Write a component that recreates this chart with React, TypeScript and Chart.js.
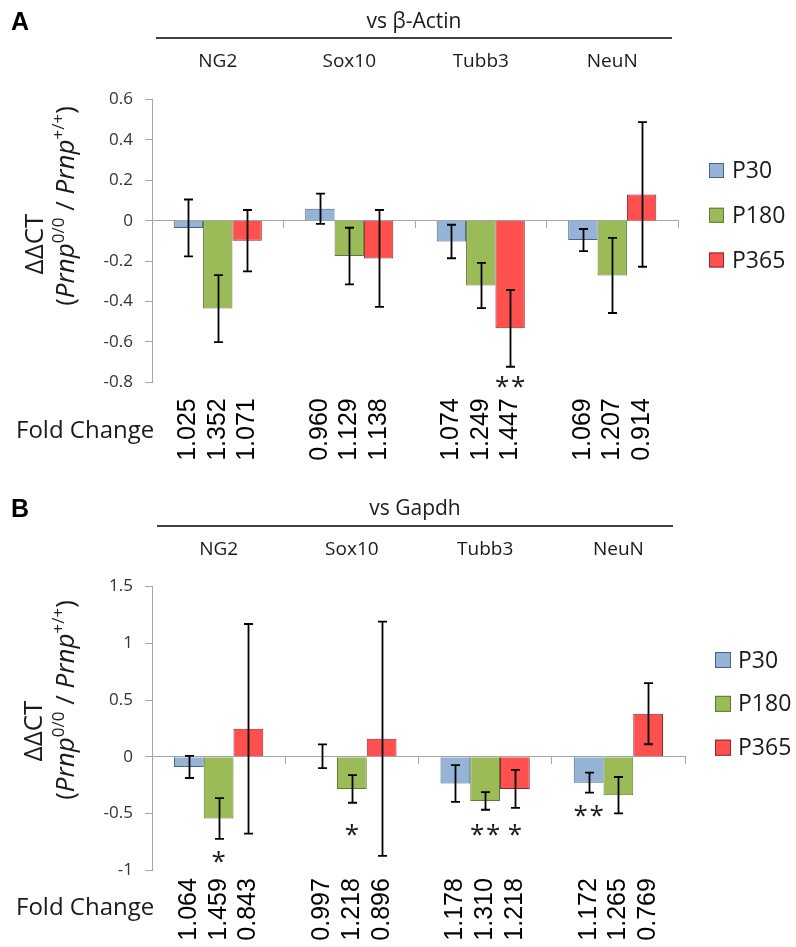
import React, { useEffect, useRef } from "react";
import { Chart, registerables } from "chart.js";

Chart.register(...registerables);

// ---------- shared ----------
const genes = ["NG2", "Sox10", "Tubb3", "NeuN"];
const seriesNames = ["P30", "P180", "P365"];
const seriesFill = ["#95B3D7", "#9BBB59", "#FF5050"];
const seriesEdge = ["#4A6284", "#5E7A2E", "#8C2A2A"];

// ---------- Panel A : vs β-Actin ----------
const aP30 = [-0.036, 0.059, -0.103, -0.096];
const aP180 = [-0.435, -0.175, -0.321, -0.271];
const aP365 = [-0.099, -0.187, -0.533, 0.13];
const aErrP30 = [0.141, 0.075, 0.083, 0.055];
const aErrP180 = [0.166, 0.14, 0.112, 0.186];
const aErrP365 = [0.152, 0.24, 0.19, 0.358];
const aFoldP30 = ["1.025", "0.960", "1.074", "1.069"];
const aFoldP180 = ["1.352", "1.129", "1.249", "1.207"];
const aFoldP365 = ["1.071", "1.138", "1.447", "0.914"];
const aStarSeries = [2];
const aStarGene = [2];
const aStarMark = ["**"];
const aStarY = [-0.797];

// ---------- Panel B : vs Gapdh ----------
const bP30 = [-0.09, 0.004, -0.236, -0.229];
const bP180 = [-0.545, -0.284, -0.39, -0.339];
const bP365 = [0.246, 0.158, -0.284, 0.379];
const bErrP30 = [0.098, 0.105, 0.162, 0.088];
const bErrP180 = [0.18, 0.122, 0.078, 0.16];
const bErrP365 = [0.924, 1.033, 0.167, 0.269];
const bFoldP30 = ["1.064", "0.997", "1.178", "1.172"];
const bFoldP180 = ["1.459", "1.218", "1.310", "1.265"];
const bFoldP365 = ["0.843", "0.896", "1.218", "0.769"];
const bStarSeries = [1, 1, 1, 2, 0];
const bStarGene = [0, 1, 2, 2, 3];
const bStarMark = ["*", "*", "**", "*", "**"];
const bStarY = [-0.883, -0.647, -0.647, -0.647, -0.478];

const SANS = '"Open Sans", "Noto Sans", "DejaVu Sans", sans-serif';
const ARIAL = '"Liberation Sans", Arial, sans-serif';

type PanelCfg = {
  letter: string;
  header: string;
  values: number[][];
  errors: number[][];
  folds: string[][];
  starSeries: number[];
  starGene: number[];
  starMark: string[];
  starY: number[];
  yMin: number;
  yMax: number;
  yStep: number;
  top: number;
  height: number;
  padTop: number;
  padBottom: number;
  padRight: number;
  letterBase: number;
  headerBase: number;
  lineY: number;
  lineX1: number;
  lineX2: number;
  geneBase: number;
  title1X: number;
  title1Y: number;
  title2X: number;
  title2Y: number;
  foldGap: number;
  foldLabelBase: number;
  legendX: number;
  legendY0: number;
  legendGap: number;
  legendBox: number;
  legendTextX: number;
};

const panelA: PanelCfg = {
  letter: "A",
  header: "vs β-Actin",
  values: [aP30, aP180, aP365],
  errors: [aErrP30, aErrP180, aErrP365],
  folds: [aFoldP30, aFoldP180, aFoldP365],
  starSeries: aStarSeries,
  starGene: aStarGene,
  starMark: aStarMark,
  starY: aStarY,
  yMin: -0.8,
  yMax: 0.6,
  yStep: 0.2,
  top: 0,
  height: 470,
  padTop: 99.5,
  padBottom: 87.7,
  padRight: 118,
  letterBase: 30,
  headerBase: 28,
  lineY: 38,
  lineX1: 156,
  lineX2: 672,
  geneBase: 67,
  title1X: 43,
  title1Y: 244,
  title2X: 74,
  title2Y: 206,
  foldGap: 16,
  foldLabelBase: 438,
  legendX: 709,
  legendY0: 170.5,
  legendGap: 44.75,
  legendBox: 15,
  legendTextX: 732,
};

const panelB: PanelCfg = {
  letter: "B",
  header: "vs Gapdh",
  values: [bP30, bP180, bP365],
  errors: [bErrP30, bErrP180, bErrP365],
  folds: [bFoldP30, bFoldP180, bFoldP365],
  starSeries: bStarSeries,
  starGene: bStarGene,
  starMark: bStarMark,
  starY: bStarY,
  yMin: -1,
  yMax: 1.5,
  yStep: 0.5,
  top: 470,
  height: 477,
  padTop: 116.6,
  padBottom: 76.9,
  padRight: 111,
  letterBase: 47,
  headerBase: 45,
  lineY: 56,
  lineX1: 157,
  lineX2: 673,
  geneBase: 85,
  title1X: 42,
  title1Y: 261,
  title2X: 74,
  title2Y: 230,
  foldGap: 8,
  foldLabelBase: 445,
  legendX: 715,
  legendY0: 190,
  legendGap: 43.85,
  legendBox: 16,
  legendTextX: 738,
};

function makePlugin(cfg: PanelCfg) {
  return {
    id: "panelAnnotations",
    afterDatasetsDraw(chart: any) {
      const ctx: CanvasRenderingContext2D = chart.ctx;
      const ys = chart.scales.y;
      ctx.save();
      ctx.strokeStyle = "#000";
      ctx.lineWidth = 1.8;
      for (let d = 0; d < cfg.values.length; d++) {
        const meta = chart.getDatasetMeta(d);
        meta.data.forEach((el: any, i: number) => {
          const v = cfg.values[d][i];
          const e = cfg.errors[d][i];
          const x = Math.round(el.x) + 0.5;
          const yt = ys.getPixelForValue(v + e);
          const yb = ys.getPixelForValue(v - e);
          ctx.beginPath();
          ctx.moveTo(x, yt);
          ctx.lineTo(x, yb);
          ctx.moveTo(x - 4.5, yt);
          ctx.lineTo(x + 4.5, yt);
          ctx.moveTo(x - 4.5, yb);
          ctx.lineTo(x + 4.5, yb);
          ctx.stroke();
        });
      }
      ctx.restore();
    },
    afterDraw(chart: any) {
      const ctx: CanvasRenderingContext2D = chart.ctx;
      const area = chart.chartArea;
      const xs = chart.scales.x;
      const ys = chart.scales.y;
      ctx.save();

      // panel letter
      ctx.fillStyle = "#000";
      ctx.font = `bold 25px ${ARIAL}`;
      ctx.textAlign = "left";
      ctx.textBaseline = "alphabetic";
      ctx.fillText(cfg.letter, 11, cfg.letterBase);

      // header + line
      ctx.fillStyle = "#1a1a1a";
      ctx.font = `21px ${SANS}`;
      ctx.textAlign = "center";
      ctx.fillText(cfg.header, (cfg.lineX1 + cfg.lineX2) / 2, cfg.headerBase);
      ctx.strokeStyle = "#404040";
      ctx.lineWidth = 2;
      ctx.beginPath();
      ctx.moveTo(cfg.lineX1, cfg.lineY);
      ctx.lineTo(cfg.lineX2, cfg.lineY);
      ctx.stroke();

      // gene names
      ctx.font = `19px ${SANS}`;
      genes.forEach((g, i) => {
        ctx.fillText(g, xs.getPixelForValue(i), cfg.geneBase);
      });

      // y title line 1
      ctx.save();
      ctx.translate(cfg.title1X, cfg.title1Y);
      ctx.rotate(-Math.PI / 2);
      ctx.font = `26px ${SANS}`;
      ctx.textAlign = "center";
      ctx.fillText("ΔΔCT", 0, 0);
      ctx.restore();

      // y title line 2 with italics and superscripts
      const size = 26;
      const sup = 17;
      const runs = [
        { t: "(", f: `${size}px ${SANS}`, up: 0 },
        { t: "Prnp", f: `italic ${size}px ${SANS}`, up: 0 },
        { t: "0/0", f: `${sup}px ${SANS}`, up: 10 },
        { t: " / ", f: `${size}px ${SANS}`, up: 0 },
        { t: "Prnp", f: `italic ${size}px ${SANS}`, up: 0 },
        { t: "+/+", f: `${sup}px ${SANS}`, up: 10 },
        { t: ")", f: `${size}px ${SANS}`, up: 0 },
      ];
      let total = 0;
      const widths = runs.map((r) => {
        ctx.font = r.f;
        const w = ctx.measureText(r.t).width;
        total += w;
        return w;
      });
      ctx.save();
      ctx.translate(cfg.title2X, cfg.title2Y);
      ctx.rotate(-Math.PI / 2);
      ctx.textAlign = "left";
      let cx = -total / 2;
      runs.forEach((r, k) => {
        ctx.font = r.f;
        ctx.fillText(r.t, cx, -r.up);
        cx += widths[k];
      });
      ctx.restore();

      // fold change label
      ctx.font = `24px ${SANS}`;
      ctx.textAlign = "left";
      ctx.fillText("Fold Change", 16, cfg.foldLabelBase);

      // fold change numbers (rotated)
      ctx.font = `25px ${ARIAL}`;
      ctx.fillStyle = "#000";
      for (let d = 0; d < cfg.folds.length; d++) {
        const meta = chart.getDatasetMeta(d);
        meta.data.forEach((el: any, i: number) => {
          ctx.save();
          ctx.translate(el.x, area.bottom + cfg.foldGap);
          ctx.rotate(-Math.PI / 2);
          ctx.textAlign = "right";
          ctx.textBaseline = "middle";
          ctx.fillText(cfg.folds[d][i], 0, 0);
          ctx.restore();
        });
      }

      // significance stars
      ctx.font = `26px ${SANS}`;
      ctx.fillStyle = "#1a1a1a";
      ctx.textAlign = "center";
      ctx.textBaseline = "alphabetic";
      const m = ctx.measureText("*");
      const shift = (m.actualBoundingBoxAscent - m.actualBoundingBoxDescent) / 2;
      cfg.starMark.forEach((mark, k) => {
        const el = chart.getDatasetMeta(cfg.starSeries[k]).data[cfg.starGene[k]];
        const cy = ys.getPixelForValue(cfg.starY[k]) + shift;
        const n = mark.length;
        for (let s = 0; s < n; s++) {
          const off = (s - (n - 1) / 2) * 16;
          ctx.fillText("*", el.x + off, cy);
        }
      });

      // legend
      ctx.textAlign = "left";
      ctx.textBaseline = "middle";
      ctx.font = `23px ${SANS}`;
      seriesNames.forEach((name, k) => {
        const cyL = cfg.legendY0 + k * cfg.legendGap;
        const b = cfg.legendBox;
        ctx.fillStyle = seriesFill[k];
        ctx.fillRect(cfg.legendX, cyL - b / 2, b, b);
        ctx.strokeStyle = seriesEdge[k];
        ctx.lineWidth = 1;
        ctx.strokeRect(cfg.legendX + 0.5, cyL - b / 2 + 0.5, b - 1, b - 1);
        ctx.fillStyle = "#1a1a1a";
        ctx.fillText(name, cfg.legendTextX, cyL + 1);
      });

      ctx.restore();
    },
  };
}

function Panel({ cfg }: { cfg: PanelCfg }) {
  const ref = useRef<HTMLCanvasElement>(null);
  useEffect(() => {
    if (!ref.current) return;
    const chart = new Chart(ref.current, {
      type: "bar",
      data: {
        labels: genes,
        datasets: seriesNames.map((name, k) => ({
          label: name,
          data: cfg.values[k],
          backgroundColor: seriesFill[k],
          borderColor: seriesEdge[k],
          borderWidth: 1,
          categoryPercentage: 0.67,
          barPercentage: 1,
        })),
      },
      options: {
        responsive: false,
        animation: false,
        events: [],
        layout: {
          padding: {
            left: 0,
            top: cfg.padTop,
            bottom: cfg.padBottom,
            right: cfg.padRight,
          },
        },
        plugins: {
          legend: { display: false },
          tooltip: { enabled: false },
        },
        scales: {
          x: {
            type: "category",
            position: { y: 0 } as any,
            offset: true,
            ticks: { display: false },
            grid: {
              offset: true,
              drawOnChartArea: false,
              drawTicks: true,
              tickLength: 7,
              color: "#A6A6A6",
            },
            border: { color: "#A6A6A6", width: 1 },
          },
          y: {
            type: "linear",
            min: cfg.yMin,
            max: cfg.yMax,
            ticks: {
              stepSize: cfg.yStep,
              padding: 12,
              color: "#333",
              font: { family: SANS, size: 17 },
              callback: (v: any) => String(Math.round(Number(v) * 10) / 10),
            },
            grid: {
              drawOnChartArea: false,
              drawTicks: true,
              tickLength: 7,
              color: "#A6A6A6",
            },
            border: { color: "#A6A6A6", width: 1 },
            afterFit: (s: any) => {
              s.width = 152;
            },
          },
        },
      },
      plugins: [makePlugin(cfg)],
    } as any);
    return () => chart.destroy();
  }, [cfg]);
  return (
    <canvas
      ref={ref}
      width={796}
      height={cfg.height}
      style={{ position: "absolute", left: 0, top: cfg.top, display: "block" }}
    />
  );
}

export default function App() {
  return (
    <div
      style={{
        position: "absolute",
        left: 0,
        top: 0,
        width: 796,
        height: 947,
        background: "#fff",
        overflow: "hidden",
      }}
    >
      <Panel cfg={panelA} />
      <Panel cfg={panelB} />
    </div>
  );
}
